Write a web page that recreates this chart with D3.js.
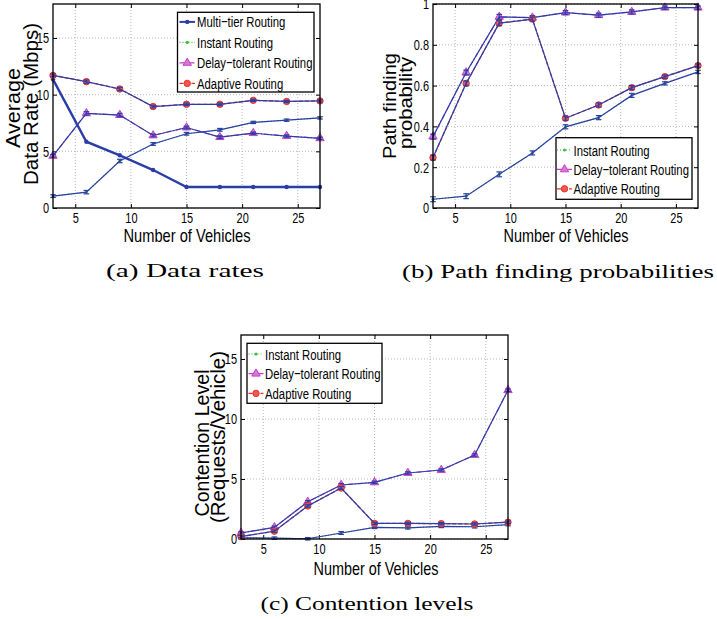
<!DOCTYPE html>
<html><head><meta charset="utf-8">
<script src="https://cdn.jsdelivr.net/npm/d3@7"></script>
<style>
body{margin:0;background:#fff}
svg{display:block}
text{font-family:"Liberation Sans",Arial,Helvetica,sans-serif;fill:#000}
.cap{font-family:"Liberation Serif","Times New Roman",serif}
</style>
</head><body>
<svg id="chart" width="717" height="619"></svg>
<script>
// ---------- data ----------
const vehicles = [3, 6, 9, 12, 15, 18, 21, 24, 27];
const xTicks = [5, 10, 15, 20, 25];
const xTickLabels = ["5", "10", "15", "20", "25"];

// (a) Average data rate (Mbps)
const rateMultiTier     = [11.35, 5.85, 4.65, 3.35, 1.85, 1.85, 1.85, 1.85, 1.85];
const rateInstant       = [1.05, 1.4, 4.15, 5.65, 6.55, 6.9, 7.55, 7.75, 7.95];
const rateDelayTolerant = [4.6, 8.35, 8.2, 6.4, 7.1, 6.25, 6.6, 6.35, 6.15];
const rateAdaptive      = [11.7, 11.15, 10.5, 8.95, 9.15, 9.15, 9.5, 9.4, 9.45];
const rateErr           = [0.12, 0.15, 0.15, 0.12, 0.12, 0.12, 0.1, 0.1, 0.1];
const rateTicks = [0, 5, 10, 15];
const rateTickLabels = ["0", "5", "10", "15"];

// (b) Path finding probability
const pathInstant       = [0.043, 0.058, 0.165, 0.27, 0.398, 0.443, 0.552, 0.611, 0.667];
const pathDelayTolerant = [0.35, 0.664, 0.937, 0.933, 0.958, 0.945, 0.961, 0.982, 0.982];
const pathAdaptive      = [0.247, 0.611, 0.906, 0.926, 0.44, 0.505, 0.59, 0.644, 0.698];
const pathErr           = [0.012, 0.012, 0.012, 0.01, 0.01, 0.01, 0.01, 0.008, 0.008];
const pathTicks = [0, 0.2, 0.4, 0.6, 0.8, 1];
const pathTickLabels = ["0", "0.2", "0.4", "0.6", "0.8", "1"];

// (c) Contention level (requests/vehicle)
const contInstant       = [0.1, 0.07, 0.02, 0.5, 0.97, 0.93, 1.05, 1.02, 1.2];
const contDelayTolerant = [0.5, 0.97, 3.1, 4.5, 4.72, 5.5, 5.75, 7.0, 12.4];
const contAdaptive      = [0.2, 0.65, 2.75, 4.25, 1.3, 1.3, 1.28, 1.25, 1.4];
const contErr           = [0.1, 0.1, 0.1, 0.12, 0.1, 0.1, 0.1, 0.1, 0.1];
const contTicks = [0, 5, 10, 15];
const contTickLabels = ["0", "5", "10", "15"];

const seriesNames = ["Multi\u2212tier Routing", "Instant Routing", "Delay\u2212tolerant Routing", "Adaptive Routing"];

// ---------- styles ----------
const BLUE = "#2b3ea8", GREEN = "#3cc03c", MAG = "#c53ec5", RED = "#e8322c";
const svg = d3.select("#chart");

function condense(sel, k) {
  sel.each(function () {
    const w = this.getComputedTextLength();
    this.setAttribute("textLength", w * k);
    this.setAttribute("lengthAdjust", "spacingAndGlyphs");
  });
}
function fitTo(sel, w) { sel.attr("textLength", w).attr("lengthAdjust", "spacingAndGlyphs"); }

const styles = {
  multi:   {color: BLUE, dash: null, width: 2.4, marker: "dot"},
  instant: {color: GREEN, dash: "1,2", width: 1.2, marker: "small"},
  delay:   {color: MAG, dash: "5,2,1,2", width: 1.2, marker: "tri"},
  adapt:   {color: RED, dash: "4,2", width: 1.3, marker: "circ"}
};

function drawMarker(g, type, cx, cy) {
  if (type === "dot") {
    g.append("circle").attr("cx", cx).attr("cy", cy).attr("r", 2.2).attr("fill", BLUE);
  } else if (type === "small") {
    g.append("circle").attr("cx", cx).attr("cy", cy).attr("r", 1.6).attr("fill", GREEN);
  } else if (type === "tri") {
    g.append("path").attr("d", d3.symbol(d3.symbolTriangle, 30)())
      .attr("transform", `translate(${cx},${cy})`)
      .attr("fill", "#d77ad7").attr("stroke", MAG).attr("stroke-width", 1);
  } else if (type === "circ") {
    g.append("circle").attr("cx", cx).attr("cy", cy).attr("r", 3.2)
      .attr("fill", "#ee5a52").attr("stroke", RED).attr("stroke-width", 1);
  }
}

function panel(cfg) {
  const x = d3.scaleLinear().domain([3, 27]).range([cfg.left, cfg.right]);
  const y = d3.scaleLinear().domain(cfg.yDomain).range([cfg.bottom, cfg.top]);
  const g = svg.append("g");

  // grid
  g.append("g").selectAll("line").data(xTicks).join("line")
    .attr("x1", d => x(d)).attr("x2", d => x(d)).attr("y1", cfg.top).attr("y2", cfg.bottom)
    .attr("stroke", "#b0b0b0").attr("stroke-width", 0.9).attr("stroke-dasharray", "1,2");
  g.append("g").selectAll("line").data(cfg.yTicks).join("line")
    .attr("x1", cfg.left).attr("x2", cfg.right).attr("y1", d => y(d)).attr("y2", d => y(d))
    .attr("stroke", "#b0b0b0").attr("stroke-width", 0.9).attr("stroke-dasharray", "1,2");

  // axes
  const ax = g.append("g").attr("transform", `translate(0,${cfg.bottom})`)
    .call(d3.axisBottom(x).tickValues(xTicks).tickSize(-4).tickPadding(4)
      .tickFormat((d, i) => xTickLabels[i]));
  const ay = g.append("g").attr("transform", `translate(${cfg.left},0)`)
    .call(d3.axisLeft(y).tickValues(cfg.yTicks).tickSize(-4).tickPadding(4)
      .tickFormat((d, i) => cfg.yTickLabels[i]));
  g.append("g").attr("transform", `translate(0,${cfg.top})`)
    .call(d3.axisTop(x).tickValues(xTicks).tickSize(-4).tickFormat(""));
  g.append("g").attr("transform", `translate(${cfg.right},0)`)
    .call(d3.axisRight(y).tickValues(cfg.yTicks).tickSize(-4).tickFormat(""));
  g.selectAll(".domain").remove();
  g.selectAll(".tick line").attr("stroke", "#000").attr("stroke-width", 1);
  [ax, ay].forEach(a => {
    a.selectAll("text").attr("font-size", 15).attr("font-family", '"Liberation Sans",Arial,sans-serif').attr("fill", "#000");
    condense(a.selectAll("text"), 0.73);
  });

  // series
  const line = d3.line().x((d, i) => x(vehicles[i])).y(d => y(d));
  cfg.series.forEach(s => {
    const st = styles[s.key];
    const sg = g.append("g");
    sg.append("path").attr("d", line(s.values)).attr("fill", "none")
      .attr("stroke", st.color).attr("stroke-width", st.width)
      .attr("stroke-dasharray", st.dash);
    s.values.forEach((v, i) => drawMarker(sg, st.marker, x(vehicles[i]), y(v)));
    if (s.err) {
      sg.append("path").attr("d", line(s.values)).attr("fill", "none")
        .attr("stroke", BLUE).attr("stroke-width", 1.2);
      s.values.forEach((v, i) => {
        const cx = x(vehicles[i]), y0 = y(v - s.err[i]), y1 = y(v + s.err[i]);
        sg.append("line").attr("x1", cx).attr("x2", cx).attr("y1", y0).attr("y2", y1)
          .attr("stroke", BLUE).attr("stroke-width", 1.2);
        [y0, y1].forEach(yy => sg.append("line").attr("x1", cx - 2.8).attr("x2", cx + 2.8)
          .attr("y1", yy).attr("y2", yy).attr("stroke", BLUE).attr("stroke-width", 1.2));
      });
    }
  });

  // box
  g.append("rect").attr("x", cfg.left).attr("y", cfg.top)
    .attr("width", cfg.right - cfg.left).attr("height", cfg.bottom - cfg.top)
    .attr("fill", "none").attr("stroke", "#000").attr("stroke-width", 1.3);

  // legend
  const L = cfg.legend;
  const lg = g.append("g");
  lg.append("rect").attr("x", L.x0).attr("y", L.y0).attr("width", L.x1 - L.x0).attr("height", L.y1 - L.y0)
    .attr("fill", "#fff").attr("stroke", "#000").attr("stroke-width", 1.3);
  L.items.forEach((it, i) => {
    const st = styles[it.key];
    const cy = L.y0 + L.first + i * L.gap;
    lg.append("line").attr("x1", L.sx0).attr("x2", L.sx1).attr("y1", cy).attr("y2", cy)
      .attr("stroke", st.color).attr("stroke-width", it.key === "multi" ? 2 : 1.2)
      .attr("stroke-dasharray", st.dash);
    drawMarker(lg, st.marker, (L.sx0 + L.sx1) / 2, cy);
    const t = lg.append("text").attr("x", L.tx).attr("y", cy + 5.5).attr("font-size", 15.5).text(it.name);
    condense(t, 0.73);
  });

  // axis labels
  const xl = g.append("text").attr("x", cfg.xLabel.cx).attr("y", cfg.xLabel.base)
    .attr("text-anchor", "middle").attr("font-size", 19).text("Number of Vehicles");
  fitTo(xl, cfg.xLabel.w);
  cfg.yLabel.forEach(l => {
    const t = g.append("text").attr("transform", `translate(${l.base},${l.cy}) rotate(-90)`)
      .attr("text-anchor", "middle").attr("font-size", l.fs).text(l.text);
    fitTo(t, l.w);
  });

  // caption
  const c = svg.append("text").attr("class", "cap").attr("x", cfg.caption.cx).attr("y", cfg.caption.base)
    .attr("text-anchor", "middle").attr("font-size", 19.5).text(cfg.caption.text);
  fitTo(c, cfg.caption.w);
}

// (a)
panel({
  left: 53, right: 320, top: 4, bottom: 208, yDomain: [0, 18],
  yTicks: rateTicks, yTickLabels: rateTickLabels,
  series: [
    {key: "multi", values: rateMultiTier},
    {key: "instant", values: rateInstant, err: rateErr},
    {key: "delay", values: rateDelayTolerant, err: rateErr},
    {key: "adapt", values: rateAdaptive, err: rateErr}
  ],
  legend: {x0: 177.5, x1: 314, y0: 12.3, y1: 92, first: 9.6, gap: 20.5, sx0: 179.5, sx1: 195, tx: 197,
    items: [{key: "multi", name: seriesNames[0]}, {key: "instant", name: seriesNames[1]},
            {key: "delay", name: seriesNames[2]}, {key: "adapt", name: seriesNames[3]}]},
  xLabel: {cx: 187, base: 242, w: 127},
  yLabel: [{text: "Average", base: 20, cy: 108, w: 80, fs: 19.5},
           {text: "Data Rate (Mbps)", base: 37.5, cy: 104, w: 162, fs: 19.5}],
  caption: {text: "(a) Data rates", cx: 185, base: 277, w: 158}
});

// (b)
panel({
  left: 433, right: 698, top: 4, bottom: 208, yDomain: [0, 1],
  yTicks: pathTicks, yTickLabels: pathTickLabels,
  series: [
    {key: "instant", values: pathInstant, err: pathErr},
    {key: "delay", values: pathDelayTolerant, err: pathErr},
    {key: "adapt", values: pathAdaptive, err: pathErr}
  ],
  legend: {x0: 556, x1: 692, y0: 137.7, y1: 199.3, first: 12.3, gap: 19.4, sx0: 557, sx1: 572, tx: 573.5,
    items: [{key: "instant", name: seriesNames[1]}, {key: "delay", name: seriesNames[2]},
            {key: "adapt", name: seriesNames[3]}]},
  xLabel: {cx: 566, base: 242, w: 125},
  yLabel: [{text: "Path finding", base: 396, cy: 106, w: 106, fs: 19},
           {text: "probability", base: 412, cy: 103, w: 92, fs: 19}],
  caption: {text: "(b) Path finding probabilities", cx: 558, base: 278, w: 312}
});

// (c)
panel({
  left: 241, right: 508, top: 335, bottom: 539, yDomain: [0, 17],
  yTicks: contTicks, yTickLabels: contTickLabels,
  series: [
    {key: "instant", values: contInstant, err: contErr},
    {key: "delay", values: contDelayTolerant, err: contErr},
    {key: "adapt", values: contAdaptive, err: contErr}
  ],
  legend: {x0: 247, x1: 382, y0: 343.3, y1: 403.3, first: 10.7, gap: 19.7, sx0: 248.5, sx1: 263.5, tx: 265,
    items: [{key: "instant", name: seriesNames[1]}, {key: "delay", name: seriesNames[2]},
            {key: "adapt", name: seriesNames[3]}]},
  xLabel: {cx: 376, base: 575, w: 125},
  yLabel: [{text: "Contention Level", base: 209, cy: 443, w: 147, fs: 19.5},
           {text: "(Requests/Vehicle)", base: 225, cy: 437, w: 172, fs: 19.5}],
  caption: {text: "(c) Contention levels", cx: 367, base: 610, w: 213}
});
</script>
</body></html>
